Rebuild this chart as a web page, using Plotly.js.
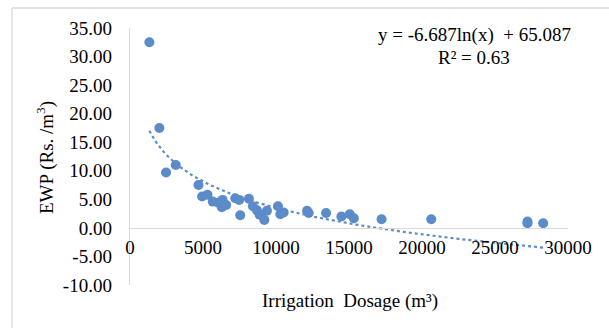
<!DOCTYPE html>
<html>
<head>
<meta charset="utf-8">
<script src="https://cdn.plot.ly/plotly-3.0.1.min.js"></script>
<style>html,body{margin:0;padding:0;background:#fff;}#chart{width:609px;height:328px;}</style>
</head>
<body>
<div id="chart"></div>
<script>
// Irrigation dosage (m³)
const dosage = [1326, 2013, 2470, 3135, 4690, 4940, 5310, 5670, 6065, 6340, 6290, 6590, 7210, 7480, 7550, 8145, 8420, 8695, 8880, 9200, 9380, 10135, 10295, 10525, 12125, 12240, 13430, 14480, 15055, 15330, 17230, 20635, 27225, 27225, 28300];
// EWP (Rs./m³)
const ewp = [32.5, 17.5, 9.7, 11.0, 7.5, 5.5, 5.8, 4.6, 4.4, 4.9, 3.6, 4.0, 5.2, 4.9, 2.2, 5.1, 3.8, 3.1, 2.3, 1.4, 3.0, 3.8, 2.4, 2.7, 3.0, 2.6, 2.6, 2.0, 2.4, 1.7, 1.5, 1.5, 1.1, 0.8, 0.8];
// Trendline coefficients as displayed: y = a ln(x) + b
const trendA = -6.687, trendB = 65.087;
const xTicks = [0, 5000, 10000, 15000, 20000, 25000, 30000];
const yTicks = [-10, -5, 0, 5, 10, 15, 20, 25, 30, 35];

const xmin = Math.min(...dosage), xmax = Math.max(...dosage);
const tx = [], ty = [];
for (let i = 0; i <= 200; i++) {
  const x = xmin + (xmax - xmin) * i / 200;
  tx.push(x); ty.push(trendA * Math.log(x) + trendB);
}

const font = {family: '"Liberation Serif", "Times New Roman", serif', size: 19, color: '#000'};
const blue = '#5B8BC9';

const data = [
  {x: dosage, y: ewp, mode: 'markers', type: 'scatter',
   marker: {color: blue, size: 10}, hoverinfo: 'none'},
  {x: tx, y: ty, mode: 'lines', type: 'scatter',
   line: {color: blue, width: 2.2, dash: 'dot'}, hoverinfo: 'none'}
];

const layout = {
  width: 609, height: 328,
  margin: {l: 130, r: 41, t: 28, b: 43},
  paper_bgcolor: '#fff', plot_bgcolor: '#fff',
  showlegend: false,
  font: font,
  xaxis: {range: [0, 30000], tickvals: xTicks, ticktext: xTicks.map(String),
    showgrid: false, zeroline: false, showline: true, linecolor: '#d9d9d9', linewidth: 1.3,
    anchor: 'free', position: 10/45, ticks: '', ticklabelstandoff: 2, tickfont: font},
  yaxis: {range: [-10, 35], tickvals: yTicks, ticktext: yTicks.map(v => v.toFixed(2)),
    showgrid: false, zeroline: false, showline: true, linecolor: '#d9d9d9', linewidth: 1.3,
    ticks: '', ticklabelstandoff: 13, tickfont: font},
  annotations: [
    {text: 'y = -6.687ln(x)  + 65.087', xref: 'paper', yref: 'paper',
     x: (474-130)/438, y: (285-35)/257, xanchor: 'center', yanchor: 'middle', showarrow: false, font: font},
    {text: 'R² = 0.63', xref: 'paper', yref: 'paper',
     x: (474-130)/438, y: (285-57)/257, xanchor: 'center', yanchor: 'middle', showarrow: false, font: font},
    {text: 'EWP (Rs. /m<sup>3</sup>)', xref: 'paper', yref: 'paper', textangle: -90,
     x: (45-130)/438, y: (285-158)/257, xanchor: 'center', yanchor: 'middle', showarrow: false, font: font},
    {text: 'Irrigation  Dosage (m³)', xref: 'paper', yref: 'paper',
     x: (350-130)/438, y: (285-301)/257, xanchor: 'center', yanchor: 'middle', showarrow: false, font: font}
  ],
  shapes: [
    {type: 'line', xref: 'paper', yref: 'paper', x0: (12-130)/438, x1: (12-130)/438,
     y0: (285-8)/257, y1: (285-340)/257, line: {color: '#d9d9d9', width: 1.3}},
    {type: 'line', xref: 'paper', yref: 'paper', x0: (12-130)/438, x1: (620-130)/438,
     y0: (285-8)/257, y1: (285-8)/257, line: {color: '#d9d9d9', width: 1.3}}
  ]
};

Plotly.newPlot('chart', data, layout, {displayModeBar: false, staticPlot: true});
</script>
</body>
</html>
